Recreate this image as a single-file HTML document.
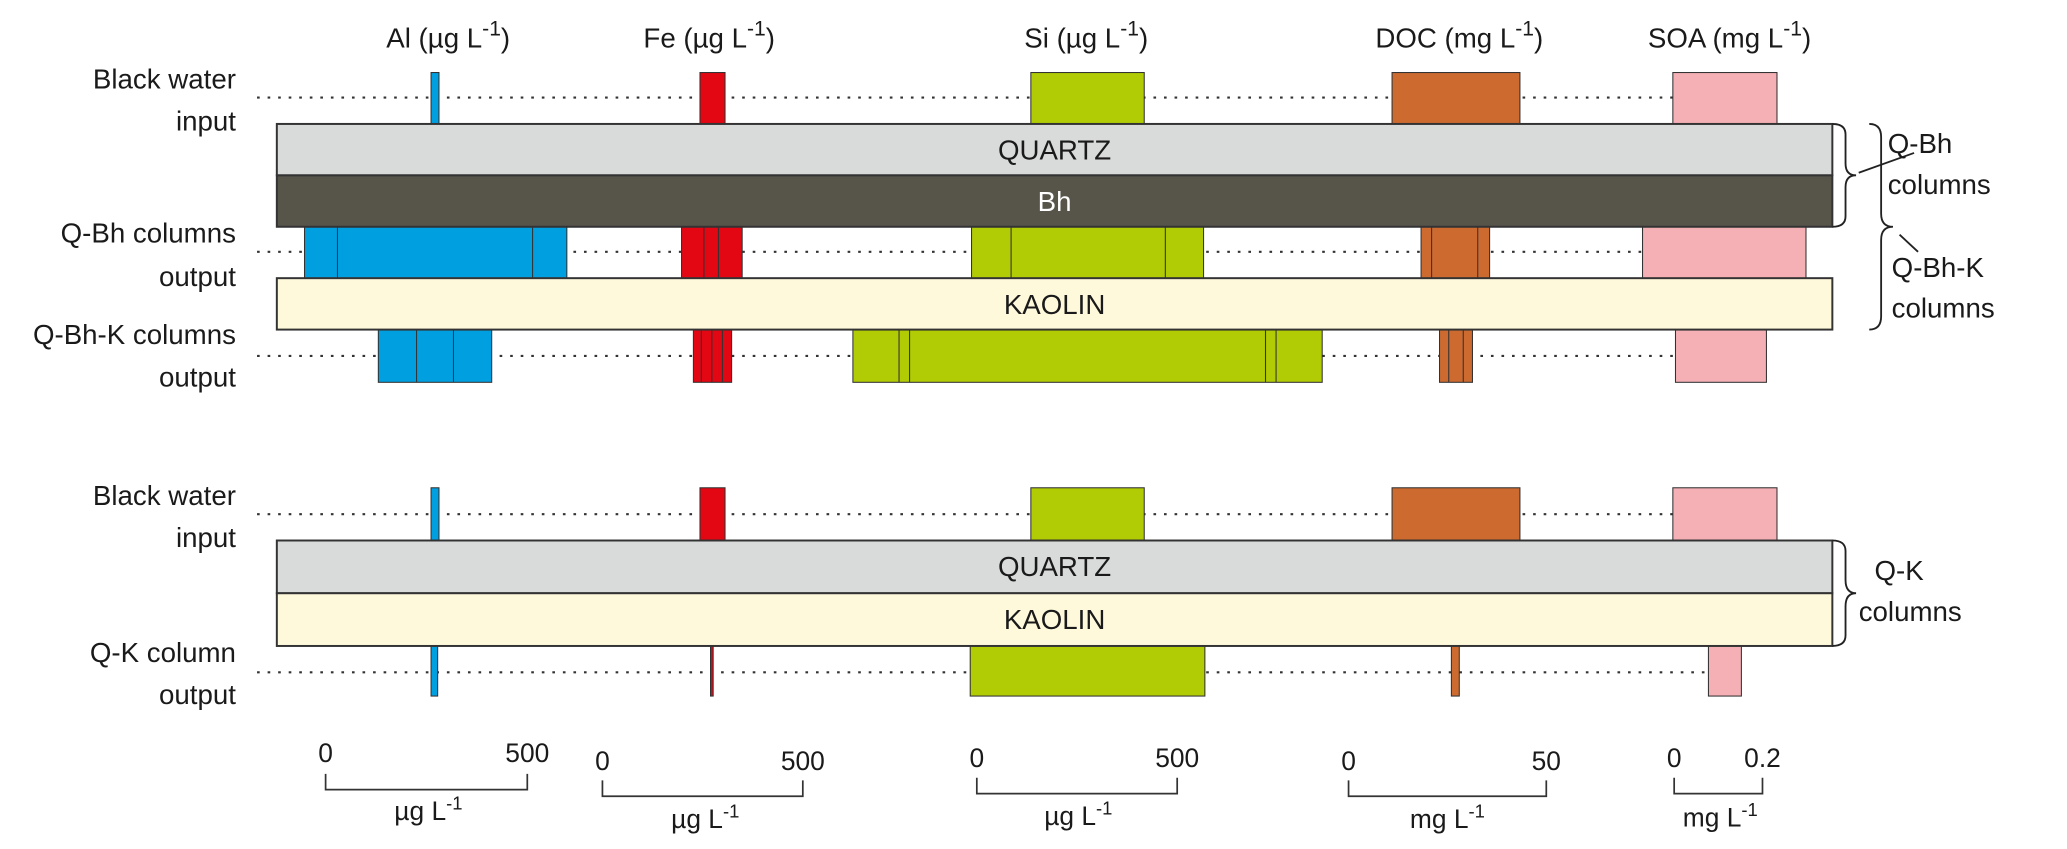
<!DOCTYPE html>
<html><head><meta charset="utf-8"><style>
html,body{margin:0;padding:0;background:#fff;}
svg{display:block;}
text{font-family:"Liberation Sans",sans-serif;fill:#1a1a1a;}
</style></head><body>
<svg width="2067" height="849" viewBox="0 0 1568 644" xmlns="http://www.w3.org/2000/svg">
<g font-size="21">
<text x="340" y="36" text-anchor="middle">Al (µg L<tspan dy="-9" font-size="16">-1</tspan><tspan dy="9">)</tspan></text>
<text x="538" y="36" text-anchor="middle">Fe (µg L<tspan dy="-9" font-size="16">-1</tspan><tspan dy="9">)</tspan></text>
<text x="824" y="36" text-anchor="middle">Si (µg L<tspan dy="-9" font-size="16">-1</tspan><tspan dy="9">)</tspan></text>
<text x="1107" y="36" text-anchor="middle">DOC (mg L<tspan dy="-9" font-size="16">-1</tspan><tspan dy="9">)</tspan></text>
<text x="1312" y="36" text-anchor="middle">SOA (mg L<tspan dy="-9" font-size="16">-1</tspan><tspan dy="9">)</tspan></text>
</g>
<g font-size="21" text-anchor="end">
<text x="179" y="67">Black water</text><text x="179" y="99">input</text>
<text x="179" y="184">Q-Bh columns</text><text x="179" y="217">output</text>
<text x="179" y="261">Q-Bh-K columns</text><text x="179" y="293">output</text>
<text x="179" y="383">Black water</text><text x="179" y="415">input</text>
<text x="179" y="502">Q-K column</text><text x="179" y="534">output</text>
</g>
<g stroke="#333" stroke-width="1.6" stroke-dasharray="2,6">
<line x1="195" y1="74" x2="1269" y2="74"/>
<line x1="195" y1="191" x2="1246" y2="191"/>
<line x1="195" y1="270" x2="1271" y2="270"/>
<line x1="195" y1="390" x2="1269" y2="390"/>
<line x1="195" y1="510" x2="1296" y2="510"/>
</g>
<g stroke="#333" stroke-width="0.8">
<rect x="327" y="55" width="6" height="39" fill="#009fe0"/>
<rect x="531" y="55" width="19" height="39" fill="#e30613"/>
<rect x="782" y="55" width="86" height="39" fill="#b1cb04"/>
<rect x="1056" y="55" width="97" height="39" fill="#cc6a30"/>
<rect x="1269" y="55" width="79" height="39" fill="#f5b0b5"/>
<rect x="231" y="172" width="199" height="39" fill="#009fe0"/>
<line x1="256" y1="172" x2="256" y2="211"/><line x1="404" y1="172" x2="404" y2="211"/>
<rect x="517" y="172" width="46" height="39" fill="#e30613"/>
<line x1="534" y1="172" x2="534" y2="211"/><line x1="545" y1="172" x2="545" y2="211"/>
<rect x="737" y="172" width="176" height="39" fill="#b1cb04"/>
<line x1="767" y1="172" x2="767" y2="211"/><line x1="884" y1="172" x2="884" y2="211"/>
<rect x="1078" y="172" width="52" height="39" fill="#cc6a30"/>
<line x1="1086" y1="172" x2="1086" y2="211"/><line x1="1121" y1="172" x2="1121" y2="211"/>
<rect x="1246" y="172" width="124" height="39" fill="#f5b0b5"/>
<rect x="287" y="250" width="86" height="40" fill="#009fe0"/>
<line x1="316" y1="250" x2="316" y2="290"/><line x1="344" y1="250" x2="344" y2="290"/>
<rect x="526" y="250" width="29" height="40" fill="#e30613"/>
<line x1="532" y1="250" x2="532" y2="290"/><line x1="540" y1="250" x2="540" y2="290"/><line x1="548" y1="250" x2="548" y2="290"/>
<rect x="647" y="250" width="356" height="40" fill="#b1cb04"/>
<line x1="682" y1="250" x2="682" y2="290"/><line x1="690" y1="250" x2="690" y2="290"/><line x1="960" y1="250" x2="960" y2="290"/><line x1="968" y1="250" x2="968" y2="290"/>
<rect x="1092" y="250" width="25" height="40" fill="#cc6a30"/>
<line x1="1099" y1="250" x2="1099" y2="290"/><line x1="1110" y1="250" x2="1110" y2="290"/>
<rect x="1271" y="250" width="69" height="40" fill="#f5b0b5"/>
<rect x="327" y="370" width="6" height="40" fill="#009fe0"/>
<rect x="531" y="370" width="19" height="40" fill="#e30613"/>
<rect x="782" y="370" width="86" height="40" fill="#b1cb04"/>
<rect x="1056" y="370" width="97" height="40" fill="#cc6a30"/>
<rect x="1269" y="370" width="79" height="40" fill="#f5b0b5"/>
<rect x="327" y="490" width="5" height="38" fill="#009fe0"/>
<rect x="539" y="490" width="2" height="38" fill="#e30613"/>
<rect x="736" y="490" width="178" height="38" fill="#b1cb04"/>
<rect x="1101" y="490" width="6" height="38" fill="#cc6a30"/>
<rect x="1296" y="490" width="25" height="38" fill="#f5b0b5"/>
</g>
<g stroke="#333" stroke-width="1.5">
<rect x="210" y="94" width="1180" height="39" fill="#d9dada"/>
<rect x="210" y="133" width="1180" height="39" fill="#57544a"/>
<rect x="210" y="211" width="1180" height="39" fill="#fff9dc"/>
<rect x="210" y="410" width="1180" height="40" fill="#d9dada"/>
<rect x="210" y="450" width="1180" height="40" fill="#fff9dc"/>
</g>
<g font-size="21" text-anchor="middle">
<text x="800" y="121">QUARTZ</text>
<text x="800" y="160" style="fill:#fff">Bh</text>
<text x="800" y="238">KAOLIN</text>
<text x="800" y="437">QUARTZ</text>
<text x="800" y="477">KAOLIN</text>
</g>
<g fill="none" stroke="#222" stroke-width="1.4">
<path d="M1390,94 q10,0 10,8 v22 q0,9 8,9 q-8,0 -8,9 v22 q0,8 -10,8"/>
<path d="M1418,94 q9,0 9,10 v58 q0,10 9,10 q-9,0 -9,10 v58 q0,10 -9,10"/>
<path d="M1390,410 q10,0 10,8 v22 q0,10 8,10 q-8,0 -8,10 v22 q0,8 -10,8"/>
<line x1="1410" y1="131" x2="1452" y2="116"/>
<line x1="1441" y1="178" x2="1455" y2="191"/>
</g>
<g font-size="21">
<text x="1432" y="116">Q-Bh</text><text x="1432" y="147">columns</text>
<text x="1435" y="210">Q-Bh-K</text><text x="1435" y="241">columns</text>
<text x="1422" y="440">Q-K</text><text x="1410" y="471">columns</text>
</g>
<g fill="none" stroke="#333" stroke-width="1.3">
<path d="M247,587 v12 h153 v-12"/>
<path d="M457,592 v12 h152 v-12"/>
<path d="M741,590 v12 h152 v-12"/>
<path d="M1023,592 v12 h150 v-12"/>
<path d="M1270,590 v12 h67 v-12"/>
</g>
<g font-size="20" text-anchor="middle">
<text x="247" y="578">0</text><text x="400" y="578">500</text>
<text x="457" y="584">0</text><text x="609" y="584">500</text>
<text x="741" y="582">0</text><text x="893" y="582">500</text>
<text x="1023" y="584">0</text><text x="1173" y="584">50</text>
<text x="1270" y="582">0</text><text x="1337" y="582">0.2</text>
<text x="325" y="622">µg L<tspan dy="-8" font-size="14">-1</tspan></text>
<text x="535" y="628">µg L<tspan dy="-8" font-size="14">-1</tspan></text>
<text x="818" y="626">µg L<tspan dy="-8" font-size="14">-1</tspan></text>
<text x="1098" y="628">mg L<tspan dy="-8" font-size="14">-1</tspan></text>
<text x="1305" y="627">mg L<tspan dy="-8" font-size="14">-1</tspan></text>
</g>
</svg>
</body></html>
